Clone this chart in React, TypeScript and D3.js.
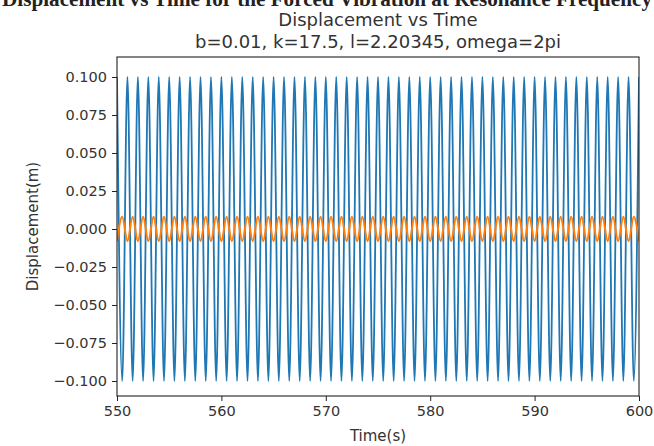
import React, { useEffect, useRef } from 'react';
import * as d3 from 'd3';

// sample times (s), one sample per half period
const sampleTimes = [
  550, 550.5, 551, 551.5, 552, 552.5, 553, 553.5, 554, 554.5,
  555, 555.5, 556, 556.5, 557, 557.5, 558, 558.5, 559, 559.5,
  560, 560.5, 561, 561.5, 562, 562.5, 563, 563.5, 564, 564.5,
  565, 565.5, 566, 566.5, 567, 567.5, 568, 568.5, 569, 569.5,
  570, 570.5, 571, 571.5, 572, 572.5, 573, 573.5, 574, 574.5,
  575, 575.5, 576, 576.5, 577, 577.5, 578, 578.5, 579, 579.5,
  580, 580.5, 581, 581.5, 582, 582.5, 583, 583.5, 584, 584.5,
  585, 585.5, 586, 586.5, 587, 587.5, 588, 588.5, 589, 589.5,
  590, 590.5, 591, 591.5, 592, 592.5, 593, 593.5, 594, 594.5,
  595, 595.5, 596, 596.5, 597, 597.5, 598, 598.5, 599, 599.5,
  600,
];

// blue series: peaks/troughs
const blueValues = [
  0.1, -0.1, 0.1, -0.1, 0.1, -0.1, 0.1, -0.1, 0.1, -0.1,
  0.1, -0.1, 0.1, -0.1, 0.1, -0.1, 0.1, -0.1, 0.1, -0.1,
  0.1, -0.1, 0.1, -0.1, 0.1, -0.1, 0.1, -0.1, 0.1, -0.1,
  0.1, -0.1, 0.1, -0.1, 0.1, -0.1, 0.1, -0.1, 0.1, -0.1,
  0.1, -0.1, 0.1, -0.1, 0.1, -0.1, 0.1, -0.1, 0.1, -0.1,
  0.1, -0.1, 0.1, -0.1, 0.1, -0.1, 0.1, -0.1, 0.1, -0.1,
  0.1, -0.1, 0.1, -0.1, 0.1, -0.1, 0.1, -0.1, 0.1, -0.1,
  0.1, -0.1, 0.1, -0.1, 0.1, -0.1, 0.1, -0.1, 0.1, -0.1,
  0.1, -0.1, 0.1, -0.1, 0.1, -0.1, 0.1, -0.1, 0.1, -0.1,
  0.1, -0.1, 0.1, -0.1, 0.1, -0.1, 0.1, -0.1, 0.1, -0.1,
  0.1,
];

// orange series: small oscillation around zero
const orangeValues = [
  -0.008, 0.008, -0.008, 0.008, -0.008, 0.008, -0.008, 0.008, -0.008, 0.008,
  -0.008, 0.008, -0.008, 0.008, -0.008, 0.008, -0.008, 0.008, -0.008, 0.008,
  -0.008, 0.008, -0.008, 0.008, -0.008, 0.008, -0.008, 0.008, -0.008, 0.008,
  -0.008, 0.008, -0.008, 0.008, -0.008, 0.008, -0.008, 0.008, -0.008, 0.008,
  -0.008, 0.008, -0.008, 0.008, -0.008, 0.008, -0.008, 0.008, -0.008, 0.008,
  -0.008, 0.008, -0.008, 0.008, -0.008, 0.008, -0.008, 0.008, -0.008, 0.008,
  -0.008, 0.008, -0.008, 0.008, -0.008, 0.008, -0.008, 0.008, -0.008, 0.008,
  -0.008, 0.008, -0.008, 0.008, -0.008, 0.008, -0.008, 0.008, -0.008, 0.008,
  -0.008, 0.008, -0.008, 0.008, -0.008, 0.008, -0.008, 0.008, -0.008, 0.008,
  -0.008, 0.008, -0.008, 0.008, -0.008, 0.008, -0.008, 0.008, -0.008, 0.008,
  -0.008,
];

const xTicks = [550, 560, 570, 580, 590, 600];
const yTicks = [-0.1, -0.075, -0.05, -0.025, 0, 0.025, 0.05, 0.075, 0.1];

const App = () => {
  const ref = useRef<SVGSVGElement>(null);

  useEffect(() => {
    const width = 654;
    const height = 446;
    const left = 117;
    const right = 639;
    const top = 57;
    const bottom = 396;
    const font = 'DejaVu Sans, sans-serif';

    const svg = d3.select(ref.current).attr('width', width).attr('height', height);
    svg.selectAll('*').remove();

    svg.append('rect').attr('width', width).attr('height', height).attr('fill', '#fff');

    const x = d3.scaleLinear().domain([550, 600]).range([left, right]);
    const y = d3.scaleLinear().domain([-0.1, 0.1]).range([381, 77]);

    // heading from the page above the figure, cut off at the top as in the screenshot
    svg
      .append('text')
      .attr('x', 2)
      .attr('y', 6)
      .attr('textLength', 650)
      .attr('lengthAdjust', 'spacingAndGlyphs')
      .style('font-family', 'Liberation Serif, serif')
      .style('font-weight', 'bold')
      .style('font-size', '20px')
      .attr('fill', '#222')
      .text('Displacement vs Time for the Forced Vibration at Resonance Frequency');

    // titles
    const cx = (left + right) / 2;
    svg
      .append('text')
      .attr('x', cx)
      .attr('y', 26)
      .attr('text-anchor', 'middle')
      .style('font-family', font)
      .style('font-size', '18px')
      .attr('fill', '#333')
      .text('Displacement vs Time');
    svg
      .append('text')
      .attr('x', cx)
      .attr('y', 48)
      .attr('text-anchor', 'middle')
      .style('font-family', font)
      .style('font-size', '18px')
      .attr('fill', '#333')
      .text('b=0.01, k=17.5, l=2.20345, omega=2pi');

    const clip = svg.append('clipPath').attr('id', 'plot-clip');
    clip
      .append('rect')
      .attr('x', left)
      .attr('y', top)
      .attr('width', right - left)
      .attr('height', bottom - top);

    const line = d3
      .line<number>()
      .x((_, i) => x(sampleTimes[i]))
      .y((d) => y(d))
      .curve(d3.curveMonotoneX);

    const plot = svg.append('g').attr('clip-path', 'url(#plot-clip)');
    plot
      .append('path')
      .attr('d', line(blueValues))
      .attr('fill', 'none')
      .attr('stroke', '#1f77b4')
      .attr('stroke-width', 1.8)
      .attr('stroke-linejoin', 'round');
    plot
      .append('path')
      .attr('d', line(orangeValues))
      .attr('fill', 'none')
      .attr('stroke', '#ff7f0e')
      .attr('stroke-width', 2)
      .attr('stroke-linejoin', 'round');

    // frame
    svg
      .append('rect')
      .attr('x', left)
      .attr('y', top)
      .attr('width', right - left)
      .attr('height', bottom - top)
      .attr('fill', 'none')
      .attr('stroke', '#222')
      .attr('stroke-width', 1.1);

    // x axis
    const xAxis = svg.append('g').attr('transform', `translate(0, ${bottom})`);
    xAxis
      .call(d3.axisBottom(x).tickValues(xTicks).tickSize(5).tickPadding(5).tickFormat(d3.format('d')))
      .call((g) => g.select('.domain').remove());
    xAxis.selectAll('line').attr('stroke', '#222');
    xAxis.selectAll('text').style('font-family', font).style('font-size', '14.5px').attr('fill', '#333');

    // y axis
    const yAxis = svg.append('g').attr('transform', `translate(${left}, 0)`);
    yAxis
      .call(d3.axisLeft(y).tickValues(yTicks).tickSize(5).tickPadding(5).tickFormat(d3.format('.3f')))
      .call((g) => g.select('.domain').remove());
    yAxis.selectAll('line').attr('stroke', '#222');
    yAxis.selectAll('text').style('font-family', font).style('font-size', '14.5px').attr('fill', '#333');

    // axis labels
    svg
      .append('text')
      .attr('x', cx)
      .attr('y', 441)
      .attr('text-anchor', 'middle')
      .style('font-family', font)
      .style('font-size', '15px')
      .attr('fill', '#333')
      .text('Time(s)');
    svg
      .append('text')
      .attr('transform', `translate(38, ${(top + bottom) / 2}) rotate(-90)`)
      .attr('text-anchor', 'middle')
      .style('font-family', font)
      .style('font-size', '15px')
      .attr('fill', '#333')
      .text('Displacement(m)');
  }, []);

  return <svg ref={ref} style={{ position: 'absolute', left: 0, top: 0 }}></svg>;
};

export default App;
